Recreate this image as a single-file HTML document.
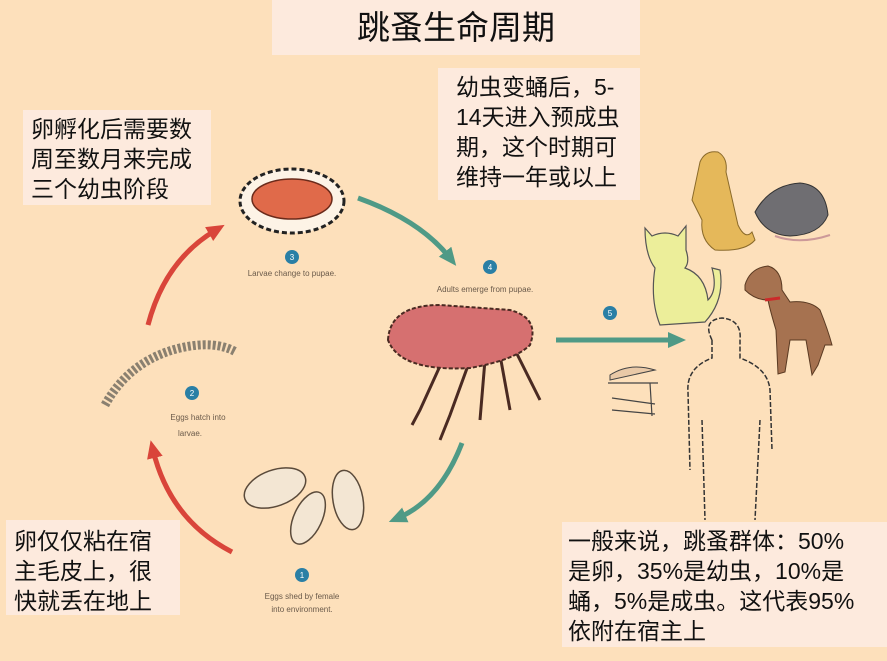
<!DOCTYPE html>
<html><head><meta charset="utf-8"><style>
html,body{margin:0;padding:0;}
body{width:887px;height:661px;background:#fde0bb;position:relative;overflow:hidden;font-family:"Liberation Sans","Noto Sans CJK SC",sans-serif;}
.box{position:absolute;background:#fdeadd;color:#111;font-size:23px;line-height:30px;}
svg{position:absolute;left:0;top:0;}
.sm{font-size:8px;fill:#6a5a4a;font-family:"Liberation Sans",sans-serif;}
</style></head><body>
<svg width="887" height="661" viewBox="0 0 887 661">
<defs>
<marker id="ag" markerWidth="20" markerHeight="20" refX="8" refY="10" orient="auto" markerUnits="userSpaceOnUse"><path d="M0,2 L18,10 L0,18 Z" fill="#4f9a86"/></marker>
<marker id="ar" markerWidth="20" markerHeight="20" refX="8" refY="10" orient="auto" markerUnits="userSpaceOnUse"><path d="M0,2 L18,10 L0,18 Z" fill="#d9453a"/></marker>
</defs>
<!-- arrows -->
<path d="M358,198 Q420,220 450,258" stroke="#4f9a86" stroke-width="5" fill="none" marker-end="url(#ag)"/>
<path d="M462,443 Q440,500 398,518" stroke="#4f9a86" stroke-width="5" fill="none" marker-end="url(#ag)"/>
<path d="M556,340 L676,340" stroke="#4f9a86" stroke-width="5" fill="none" marker-end="url(#ag)"/>
<path d="M148,325 Q165,260 216,230" stroke="#d9453a" stroke-width="5" fill="none" marker-end="url(#ar)"/>
<path d="M232,552 Q170,520 153,450" stroke="#d9453a" stroke-width="5" fill="none" marker-end="url(#ar)"/>
<!-- pupa -->
<ellipse cx="292" cy="201" rx="52" ry="32" fill="#fdf3e6" stroke="#222" stroke-width="3" stroke-dasharray="5 3"/>
<ellipse cx="292" cy="199" rx="40" ry="20" fill="#e06a4a" stroke="#6a2a1a" stroke-width="1.5"/>
<circle cx="292" cy="257" r="7" fill="#2a7fa5"/><text x="292" y="260" font-size="8" fill="#fff" text-anchor="middle">3</text>
<text x="292" y="276" class="sm" text-anchor="middle">Larvae change to pupae.</text>
<!-- larva -->
<path d="M105,405 Q130,360 180,348 Q215,340 236,352" stroke="#8a8070" stroke-width="9" fill="none" stroke-dasharray="3 2"/>
<circle cx="192" cy="393" r="7" fill="#2a7fa5"/><text x="192" y="396" font-size="8" fill="#fff" text-anchor="middle">2</text>
<text x="198" y="420" class="sm" text-anchor="middle">Eggs hatch into</text>
<text x="190" y="436" class="sm" text-anchor="middle">larvae.</text>
<!-- eggs -->
<ellipse cx="275" cy="488" rx="32" ry="18" fill="#f3e6d3" stroke="#5a4a3a" stroke-width="1.5" transform="rotate(-20 275 488)"/>
<ellipse cx="308" cy="518" rx="14" ry="28" fill="#f3e6d3" stroke="#5a4a3a" stroke-width="1.5" transform="rotate(25 308 518)"/>
<ellipse cx="348" cy="500" rx="15" ry="30" fill="#f3e6d3" stroke="#5a4a3a" stroke-width="1.5" transform="rotate(-10 348 500)"/>
<circle cx="302" cy="575" r="7" fill="#2a7fa5"/><text x="302" y="578" font-size="8" fill="#fff" text-anchor="middle">1</text>
<text x="302" y="599" class="sm" text-anchor="middle">Eggs shed by female</text>
<text x="302" y="612" class="sm" text-anchor="middle">into environment.</text>
<!-- flea -->
<circle cx="490" cy="267" r="7" fill="#2a7fa5"/><text x="490" y="270" font-size="8" fill="#fff" text-anchor="middle">4</text>
<text x="485" y="292" class="sm" text-anchor="middle">Adults emerge from pupae.</text>
<g stroke="#4a2a22" stroke-width="3" fill="none">
<path d="M445,355 L420,410 L412,425"/><path d="M470,360 L450,415 L440,440"/><path d="M485,360 L480,420"/><path d="M500,355 L510,410"/><path d="M515,350 L540,400"/>
</g>
<path d="M388,340 Q390,305 440,305 L510,310 Q540,318 530,345 Q515,360 470,368 Q400,372 388,340 Z" fill="#d67070" stroke="#4a2a22" stroke-width="2" stroke-dasharray="4 2"/>
<circle cx="610" cy="313" r="7" fill="#2a7fa5"/><text x="610" y="316" font-size="8" fill="#fff" text-anchor="middle">5</text>
<!-- prairie dog -->
<path d="M700,162 Q705,150 718,152 Q728,158 726,172 L738,225 Q745,240 752,232 L755,240 Q745,252 715,250 Q700,240 702,220 L692,200 Z" fill="#e5b85a" stroke="#8a6a2a" stroke-width="1"/>
<!-- rat -->
<path d="M755,212 Q770,185 800,183 Q825,185 828,215 Q820,235 790,236 Q765,235 755,212 Z" fill="#6f6e72" stroke="#333" stroke-width="1"/>
<path d="M775,236 Q800,245 830,235" stroke="#c99" stroke-width="2" fill="none"/>
<!-- cat -->
<path d="M645,228 L652,236 Q665,230 678,236 L686,226 L686,250 Q690,262 685,268 Q705,275 708,300 Q718,290 712,268 L720,270 Q725,300 705,322 L660,325 Q650,300 655,268 Q645,255 645,228 Z" fill="#ecee9a" stroke="#555" stroke-width="1.2"/>
<!-- dog -->
<path d="M745,285 Q750,268 768,266 Q782,270 782,290 L790,302 Q810,300 820,310 Q828,330 832,345 L825,345 L818,365 L812,375 L806,340 L790,340 L785,372 L778,374 L776,330 Q770,310 768,300 Q755,300 745,290 Z" fill="#a67250" stroke="#5a3a22" stroke-width="1"/>
<path d="M765,300 L780,298" stroke="#cc2a2a" stroke-width="3"/>
<!-- human -->
<path d="M712,340 Q702,320 722,318 Q742,320 740,340 L740,358 Q768,368 770,390 L772,450 M712,340 L712,358 Q686,368 688,392 L690,470 M702,420 L705,520 M760,420 L755,520" stroke="#333" stroke-width="1.5" fill="none" stroke-dasharray="5 2"/>
<!-- skin -->
<path d="M610,375 Q630,362 655,370 L610,380 Z" fill="#e9c9a7" stroke="#444" stroke-width="1"/>
<g stroke="#444" stroke-width="1.2" fill="none"><path d="M608,383 L658,383 M612,398 L655,404 M612,410 L655,414 M650,383 L652,416"/></g>
</svg>
<div class="box" style="left:272px;top:0;width:368px;height:55px;font-size:33px;line-height:55px;text-align:center;">跳蚤生命周期</div>
<div class="box" style="left:23px;top:110px;width:188px;height:95px;padding:4px 0 0 8px;box-sizing:border-box;">卵孵化后需要数<br>周至数月来完成<br>三个幼虫阶段</div>
<div class="box" style="left:438px;top:68px;width:202px;height:132px;padding:4px 0 0 18px;box-sizing:border-box;">幼虫变蛹后，5-<br>14天进入预成虫<br>期，这个时期可<br>维持一年或以上</div>
<div class="box" style="left:6px;top:520px;width:174px;height:95px;padding:6px 0 0 8px;box-sizing:border-box;">卵仅仅粘在宿<br>主毛皮上，很<br>快就丢在地上</div>
<div class="box" style="left:562px;top:522px;width:325px;height:125px;padding:4px 0 0 6px;box-sizing:border-box;">一般来说，跳蚤群体：50%<br>是卵，35%是幼虫，10%是<br>蛹，5%是成虫。这代表95%<br>依附在宿主上</div>
</body></html>
